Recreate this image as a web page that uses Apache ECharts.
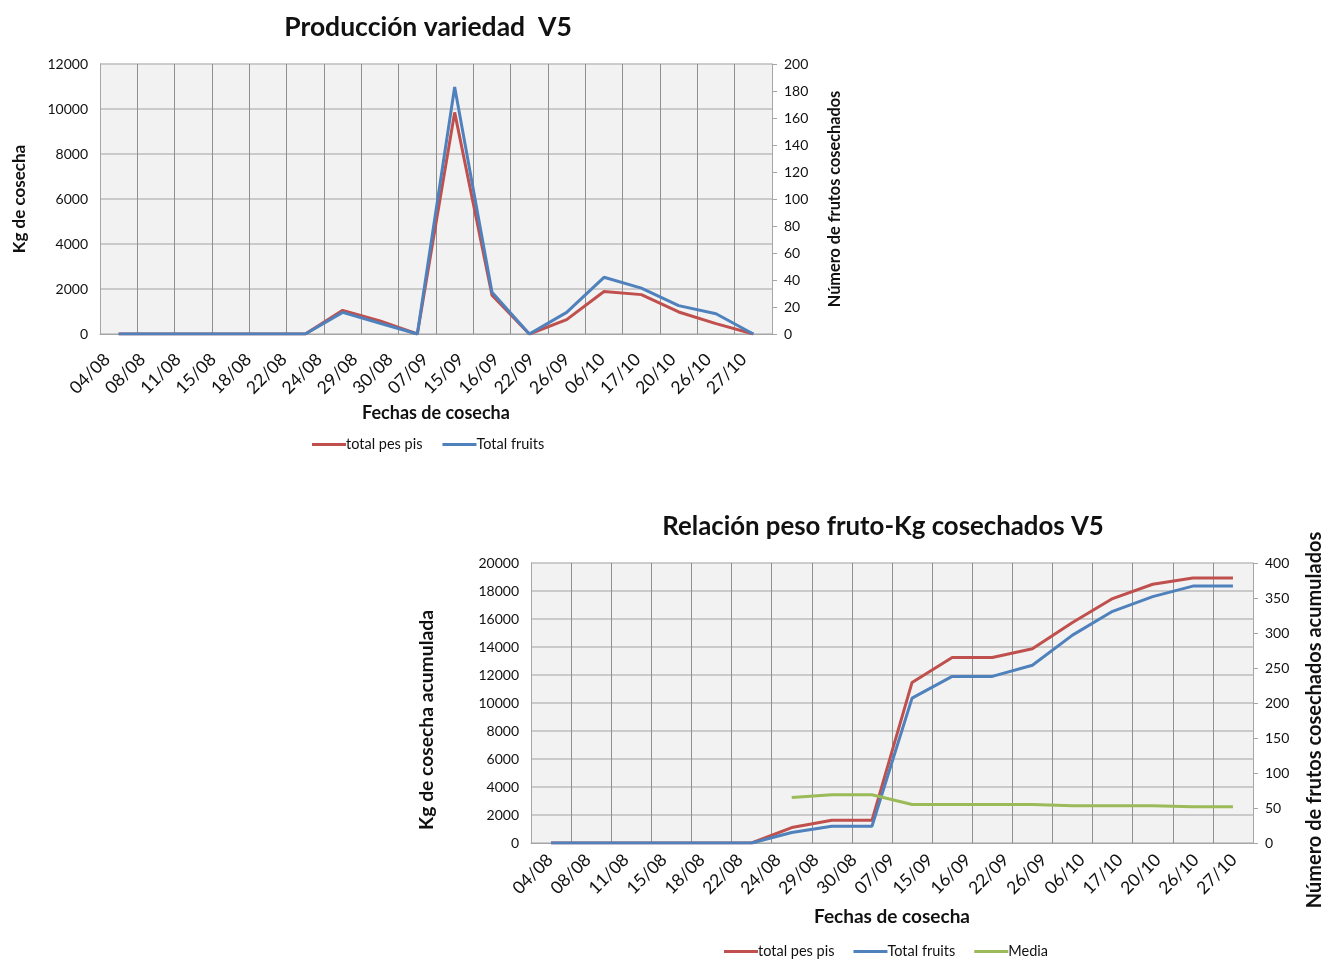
<!DOCTYPE html>
<html>
<head>
<meta charset="utf-8">
<script src="https://cdn.jsdelivr.net/npm/echarts@6/dist/echarts.min.js"></script>
<style>
  html, body { margin: 0; padding: 0; background: #ffffff; }
  #chart { width: 1324px; height: 959px; }
</style>
</head>
<body>
<div id="chart"></div>
<script>
// Harvest dates shown under each chart
const fechas = ['04/08','08/08','11/08','15/08','18/08','22/08','24/08','29/08','30/08','07/09',
                '15/09','16/09','22/09','26/09','06/10','17/10','20/10','26/10','27/10'];

// Per-harvest production (top chart)
const pesoKg = [0, 0, 0, 0, 0, 0, 1050, 580, 0, 9850, 1720, 0, 640, 1890, 1750, 980, 460, 0];
const frutos = [0, 0, 0, 0, 0, 0, 16, 8, 0, 183, 31, 0, 16, 42, 34, 21, 15, 0];

// Accumulated production and mean fruit weight (bottom chart)
const pesoAcumulado = [0, 0, 0, 0, 0, 0, 1100, 1620, 1620, 11470, 13250, 13250, 13870, 15750, 17460, 18480, 18930, 18930];
const frutosAcumulados = [0, 0, 0, 0, 0, 0, 15, 24, 24, 207, 238, 238, 254, 297, 331, 352, 367, 367];
const media = [null, null, null, null, null, null, 65, 68.9, 68.9, 55.1, 55.1, 55.1, 55.1, 53.2, 53.2, 53.2, 51.8, 51.8];

// Axis ranges
const kgTicks1 = { min: 0, max: 12000, interval: 2000 };
const frutosTicks1 = { min: 0, max: 200, interval: 20 };
const kgTicks2 = { min: 0, max: 20000, interval: 2000 };
const frutosTicks2 = { min: 0, max: 400, interval: 50 };

const FONT = 'Lato, "Open Sans", sans-serif';
const RED = '#c0504d', BLUE = '#4f81bd', GREEN = '#9bbb59';
const INK = '#111';
const slots = pesoKg.map((_, i) => i);

const chart = echarts.init(document.getElementById('chart'), null, { renderer: 'canvas' });

// Category axis carrying the lines and the vertical grid
function dataAxis(gridIndex) {
  return {
    type: 'category', gridIndex, data: slots, boundaryGap: true, position: 'bottom',
    axisLine: { show: true, onZero: false, lineStyle: { color: '#a6a6a6', width: 1 } },
    axisTick: { show: false },
    axisLabel: { show: false },
    splitLine: { show: true, interval: 0, lineStyle: { color: '#8f8f8f', width: 1 } }
  };
}
// Category axis carrying the rotated date labels and the axis title
function labelAxis(gridIndex, margin, shift, nameGap, nameSize) {
  return {
    type: 'category', gridIndex, data: fechas, boundaryGap: true, position: 'bottom',
    axisLine: { show: false, onZero: false }, axisTick: { show: false }, splitLine: { show: false },
    axisLabel: { interval: 0, rotate: 45, margin, padding: [0, shift, 0, 0],
                 fontFamily: FONT, fontSize: 17.5, color: INK },
    name: 'Fechas de cosecha', nameLocation: 'middle', nameGap,
    nameTextStyle: { fontFamily: FONT, fontSize: nameSize, fontWeight: 'bold', color: INK }
  };
}
function valueAxis(gridIndex, ticks, position, name, nameGap, nameSize, nameShift, grid) {
  return {
    type: 'value', gridIndex, position, ...ticks,
    name, nameLocation: 'middle', nameGap, nameRotate: 90,
    nameTextStyle: { fontFamily: FONT, fontSize: nameSize, fontWeight: 'bold', color: INK,
                     padding: [0, nameShift, 0, 0] },
    axisLine: { show: true, lineStyle: { color: '#a6a6a6' } },
    axisTick: { show: position === 'right', length: 5, lineStyle: { color: '#a6a6a6' } },
    axisLabel: { fontFamily: FONT, fontSize: 14, color: INK, margin: 12,
                 formatter: v => String(v) },
    splitLine: { show: grid, lineStyle: { color: '#bdbdbd', width: 1.6 } }
  };
}
function line(name, color, xAxisIndex, yAxisIndex, data) {
  return {
    name, type: 'line', xAxisIndex, yAxisIndex, data,
    showSymbol: false, symbol: 'none', smooth: false, connectNulls: false,
    lineStyle: { color, width: 3 }, itemStyle: { color }
  };
}
const legendText = { fontFamily: FONT, fontSize: 14.5, color: INK, padding: [0, 0, 0, -5] };

chart.setOption({
  animation: false,
  backgroundColor: '#ffffff',
  textStyle: { fontFamily: FONT },
  title: [
    { text: 'Producción variedad  V5', left: 423, top: 9, textAlign: 'center',
      textStyle: { fontFamily: FONT, fontSize: 26.5, fontWeight: 'bold', color: INK } },
    { text: 'Relación peso fruto-Kg cosechados V5', left: 878, top: 509, textAlign: 'center',
      textStyle: { fontFamily: FONT, fontSize: 25.8, fontWeight: 'bold', color: INK } }
  ],
  legend: [
    { data: ['total pes pis', 'Total fruits'], left: 307, top: 432,
      icon: 'rect', itemWidth: 34, itemHeight: 3, itemGap: 20, textStyle: legendText },
    { data: ['total pes pis', 'Total fruits', 'Media'], left: 719, top: 939,
      icon: 'rect', itemWidth: 34, itemHeight: 3, itemGap: 19, textStyle: legendText }
  ],
  grid: [
    { left: 100, top: 64, width: 672, height: 270, backgroundColor: '#f2f2f2', show: true,
      borderWidth: 0, outerBoundsMode: 'none', containLabel: false },
    { left: 531, top: 563, width: 722, height: 280, backgroundColor: '#f2f2f2', show: true,
      borderWidth: 0, outerBoundsMode: 'none', containLabel: false }
  ],
  xAxis: [
    dataAxis(0), labelAxis(0, 12, 15, 70, 18),
    dataAxis(1), labelAxis(1, 14, 0, 64, 19)
  ],
  yAxis: [
    valueAxis(0, kgTicks1, 'left', 'Kg de cosecha', 72, 17, 0, true),
    valueAxis(0, frutosTicks1, 'right', 'Número de frutos cosechados', 55, 16.3, 0, false),
    valueAxis(1, kgTicks2, 'left', 'Kg de cosecha acumulada', 95, 19.3, 34, true),
    valueAxis(1, frutosTicks2, 'right', 'Número de frutos cosechados acumulados', 52, 20, 34, false)
  ],
  series: [
    line('total pes pis', RED, 0, 0, pesoKg),
    line('Total fruits', BLUE, 0, 1, frutos),
    line('total pes pis', RED, 2, 2, pesoAcumulado),
    line('Total fruits', BLUE, 2, 3, frutosAcumulados),
    line('Media', GREEN, 2, 3, media)
  ]
});
</script>
</body>
</html>
